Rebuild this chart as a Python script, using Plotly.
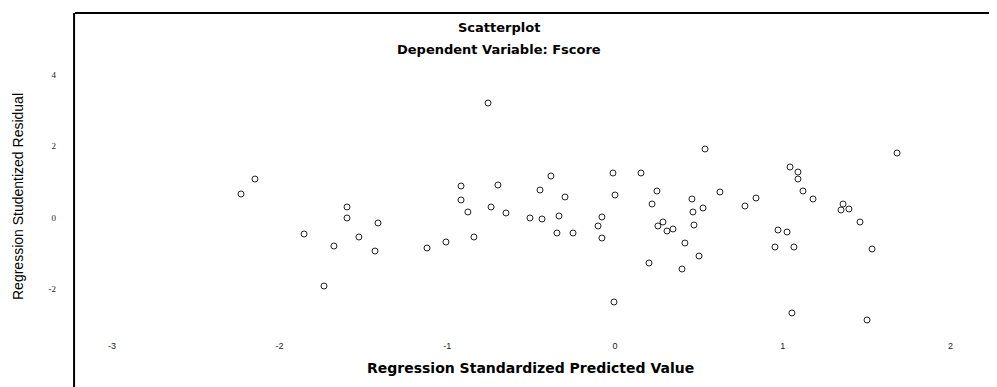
import plotly.graph_objects as go

# Regression standardized predicted value (x) and studentized residual (y)
pred = [-2.230, -2.147, -1.854, -1.735, -1.676, -1.598, -1.598, -1.527, -1.431, -1.413,
        -1.121, -1.008, -0.918, -0.918, -0.877, -0.841, -0.757, -0.739, -0.698, -0.650,
        -0.507, -0.435, -0.447, -0.382, -0.346, -0.334, -0.298, -0.250, -0.101, -0.078,
        -0.078, -0.012, -0.006, 0.000, 0.155, 0.203, 0.221, 0.250, 0.256, 0.286,
        0.310, 0.346, 0.400, 0.417, 0.459, 0.465, 0.471, 0.501, 0.525, 0.537,
        0.626, 0.775, 0.841, 0.954, 0.972, 1.026, 1.044, 1.055, 1.067, 1.091,
        1.091, 1.121, 1.181, 1.348, 1.360, 1.395, 1.461, 1.503, 1.533, 1.682]
resid = [0.664, 1.084, -0.457, -1.913, -0.793, 0.300, -0.008, -0.541, -0.933, -0.148,
         -0.849, -0.681, 0.888, 0.496, 0.160, -0.541, 3.213, 0.300, 0.916, 0.132,
         -0.008, -0.036, 0.776, 1.168, -0.429, 0.048, 0.580, -0.429, -0.232, 0.020,
         -0.569, 1.252, -2.361, 0.636, 1.252, -1.269, 0.384, 0.748, -0.232, -0.120,
         -0.373, -0.317, -1.437, -0.709, 0.524, 0.160, -0.204, -1.073, 0.272, 1.924,
         0.720, 0.328, 0.552, -0.821, -0.345, -0.401, 1.420, -2.669, -0.821, 1.280,
         1.084, 0.748, 0.524, 0.216, 0.384, 0.244, -0.120, -2.865, -0.877, 1.812]

x_ticks = [-3, -2, -1, 0, 1, 2]
y_ticks = [-2, 0, 2, 4]

title_1 = "Scatterplot"
title_2 = "Dependent Variable: Fscore"
x_title = "Regression Standardized Predicted Value"
y_title = "Regression Studentized Residual"

# page body has an 8px margin; figure is sized so it ends at the window edge
OFF = 8
PAGE_W, PAGE_H = 997, 387
W, H = PAGE_W - OFF, PAGE_H - OFF

# plot area in page pixels
left_px, top_px, bottom_px = 75, 13, 337
ml, mr, mt, mb = left_px - OFF, 0, top_px - OFF, PAGE_H - bottom_px
PW, PH = W - ml - mr, H - mt - mb


def px_x(p):
    return (p - left_px) / PW


def px_y(p):
    return 1 - (p - top_px) / PH


fig = go.Figure()
fig.add_trace(go.Scatter(
    x=pred, y=resid, mode="markers",
    marker=dict(symbol="circle-open", size=6, color="#222222", line=dict(width=1, color="#222222")),
    showlegend=False, hoverinfo="x+y",
))

fig.update_layout(
    width=W, height=H,
    margin=dict(l=ml, r=mr, t=mt, b=mb, autoexpand=False),
    paper_bgcolor="white", plot_bgcolor="white",
    font=dict(family="Liberation Sans, Arial, sans-serif", color="#000"),
    xaxis=dict(range=[-3.220, 2.278], tickvals=x_ticks, ticktext=[str(v) for v in x_ticks],
               showgrid=False, zeroline=False, showline=False, ticks="", automargin=False,
               tickfont=dict(size=9, color="#222"), ticklabelstandoff=2, fixedrange=True),
    yaxis=dict(range=[-3.342, 5.734], tickvals=y_ticks, ticktext=[str(v) for v in y_ticks],
               showgrid=False, zeroline=False, showline=False, ticks="", automargin=False,
               tickfont=dict(size=9, color="#222", family="Liberation Serif, serif"),
               ticklabelstandoff=18, fixedrange=True),
    shapes=[
        dict(type="line", xref="paper", yref="paper", x0=0, x1=1, y0=1, y1=1,
             line=dict(color="black", width=2)),
        dict(type="line", xref="paper", yref="paper", x0=-0.001, x1=-0.001,
             y0=px_y(PAGE_H + 2), y1=1, line=dict(color="black", width=2)),
    ],
    annotations=[
        dict(text="<b>%s</b>" % title_1, xref="paper", yref="paper", x=px_x(499), y=px_y(28),
             showarrow=False, xanchor="center", yanchor="middle",
             font=dict(size=13, family="DejaVu Sans, sans-serif")),
        dict(text="<b>%s</b>" % title_2, xref="paper", yref="paper", x=px_x(499), y=px_y(50),
             showarrow=False, xanchor="center", yanchor="middle",
             font=dict(size=13, family="DejaVu Sans, sans-serif")),
        dict(text="<b>%s</b>" % x_title, xref="paper", yref="paper", x=px_x(530), y=px_y(368),
             showarrow=False, xanchor="center", yanchor="middle",
             font=dict(size=14, family="DejaVu Sans, sans-serif")),
        dict(text=y_title, xref="paper", yref="paper", x=px_x(18), y=px_y(197),
             showarrow=False, xanchor="center", yanchor="middle", textangle=-90,
             font=dict(size=14, family="Liberation Sans, Arial, sans-serif")),
    ],
)

fig.write_html("out.html")
